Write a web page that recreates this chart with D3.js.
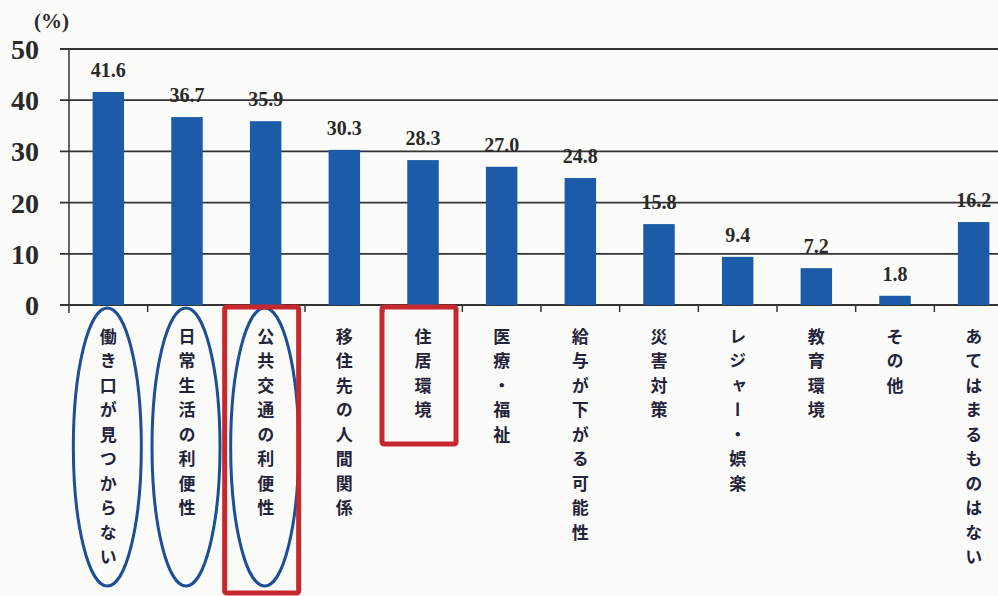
<!DOCTYPE html>
<html><head><meta charset="utf-8">
<script src="https://cdn.jsdelivr.net/npm/d3@7"></script>
<style>
html,body{margin:0;padding:0;background:#fbfbf9;}
svg{display:block;}
</style></head>
<body>
<svg id="chart" width="998" height="596"></svg>
<script>
const categories = ["働き口が見つからない","日常生活の利便性","公共交通の利便性","移住先の人間関係","住居環境","医療・福祉","給与が下がる可能性","災害対策","レジャー・娯楽","教育環境","その他","あてはまるものはない"];
const values = [41.6, 36.7, 35.9, 30.3, 28.3, 27.0, 24.8, 15.8, 9.4, 7.2, 1.8, 16.2];
const yTicks = [0, 10, 20, 30, 40, 50];
const yUnit = "(%)";
const circled = ["働き口が見つからない","日常生活の利便性","公共交通の利便性"];
const boxed = ["公共交通の利便性","住居環境"];

const svg = d3.select("#chart");
const x = d3.scaleBand().domain(categories).range([69, 1013]).paddingInner(0.6).paddingOuter(0.3);
const y = d3.scaleLinear().domain([0, 50]).range([305, 49]);
const step = x.step();

// gridlines
svg.append("g").selectAll("line").data(yTicks).join("line")
  .attr("x1", 60).attr("x2", 998)
  .attr("y1", d => y(d)).attr("y2", d => y(d))
  .attr("stroke", "#333").attr("stroke-width", 1.8);

// y axis
const yAxis = svg.append("g").attr("transform", "translate(69,0)")
  .call(d3.axisLeft(y).tickValues(yTicks).tickSize(0).tickPadding(30).tickFormat(d3.format("d")));
yAxis.select(".domain").remove();
yAxis.selectAll("text").attr("font-family", "'Liberation Serif', serif").attr("font-size", 28)
  .attr("font-weight", "bold").attr("fill", "#2a2a2a").attr("dy", "0.34em");
svg.append("line").attr("x1", 69).attr("x2", 69).attr("y1", y(50)).attr("y2", y(0) + 8)
  .attr("stroke", "#333").attr("stroke-width", 1.5);

svg.append("text").attr("x", 34).attr("y", 28).text(yUnit)
  .attr("font-family", "'Liberation Serif', serif").attr("font-size", 21).attr("font-weight", "bold").attr("fill", "#2a2a2a");

// x ticks at band boundaries
svg.append("g").selectAll("line").data(categories.slice(1)).join("line")
  .attr("x1", d => x(d) - (step - x.bandwidth()) / 2)
  .attr("x2", d => x(d) - (step - x.bandwidth()) / 2)
  .attr("y1", y(0)).attr("y2", y(0) + 7)
  .attr("stroke", "#333").attr("stroke-width", 1.5);

// bars
svg.append("g").selectAll("rect").data(values).join("rect")
  .attr("x", (d, i) => x(categories[i]))
  .attr("width", x.bandwidth())
  .attr("y", d => y(d))
  .attr("height", d => y(0) - y(d))
  .attr("fill", "#1b5ba7");

// value labels
svg.append("g").selectAll("text").data(values).join("text")
  .attr("x", (d, i) => x(categories[i]) + x.bandwidth() / 2)
  .attr("y", d => y(d) - 15)
  .attr("text-anchor", "middle")
  .attr("font-family", "'Liberation Serif', serif").attr("font-size", 20).attr("font-weight", "bold")
  .attr("fill", "#2a2a2a")
  .text(d => d3.format(".1f")(d));

// category labels (vertical)
svg.append("g").selectAll("text").data(categories).join("text")
  .attr("x", d => x(d) + x.bandwidth() / 2)
  .attr("y", 328)
  .style("writing-mode", "vertical-rl")
  .style("letter-spacing", "7.5px")
  .attr("font-family", "'Noto Sans CJK JP', sans-serif").attr("font-size", 17).attr("font-weight", "bold")
  .attr("fill", "#23233a")
  .text(d => d);

// annotations: blue ellipses
svg.append("g").selectAll("ellipse").data(circled).join("ellipse")
  .attr("cx", d => x(d) + x.bandwidth() / 2 - 1)
  .attr("cy", 447)
  .attr("rx", 34).attr("ry", 139)
  .attr("fill", "none").attr("stroke", "#1d4f96").attr("stroke-width", 3);

// annotations: red boxes
const boxBottom = {"公共交通の利便性": 593, "住居環境": 444};
svg.append("g").selectAll("rect").data(boxed).join("rect")
  .attr("x", d => x(d) + x.bandwidth() / 2 - 41)
  .attr("y", 307)
  .attr("width", 74)
  .attr("height", d => boxBottom[d] - 307)
  .attr("rx", 2)
  .attr("fill", "none").attr("stroke", "#c6282e").attr("stroke-width", 5);
</script>
</body></html>
